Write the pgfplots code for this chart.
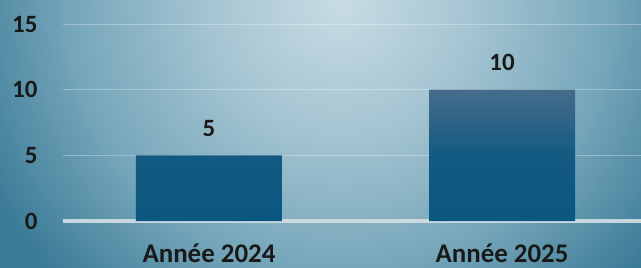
\documentclass[border=0pt]{standalone}
\usepackage{pgfplots}
\pgfplotsset{compat=1.18}
\usepackage{fontspec}
\setmainfont{Carlito}
\definecolor{bg0}{HTML}{C8DCE4}
\definecolor{bg1}{HTML}{A4C4D1}
\definecolor{bg2}{HTML}{76A6BA}
\definecolor{bg3}{HTML}{3A7A96}
\definecolor{bartop}{HTML}{466C8C}
\definecolor{barbot}{HTML}{0A5780}
\definecolor{basecol}{HTML}{D2DEE3}
\pgfdeclareradialshading{bgshade}{\pgfpoint{0bp}{0bp}}{color(0bp)=(bg0); color(135bp)=(bg1); color(270bp)=(bg2); color(400bp)=(bg3); color(500bp)=(bg3)}
\begin{document}
\begin{tikzpicture}
\useasboundingbox (0,0) rectangle (641bp,268bp);
\begin{scope}
\clip (0,0) rectangle (641bp,268bp);
\fill[bg3] (0,0) rectangle (641bp,268bp);
\node[inner sep=0pt, outer sep=0pt, anchor=center] at (340bp,268bp) {\pgfuseshading{bgshade}};
\end{scope}
\begin{axis}[
  at={(63bp,47bp)}, anchor=south west,
  scale only axis, width=578bp, height=221bp,
  xmin=-0.498, xmax=1.474, ymin=0, ymax=16.83,
  axis line style={draw=none},
  major tick length=0pt,
  xtick={0,1}, xticklabels={Année 2024, Année 2025},
  ytick={0,5,10,15},
  ymajorgrids, grid style={white, opacity=0.3, line width=1bp},
  /pgf/number format/assume math mode=true,
  tick label style={font=\fontsize{25}{30}\selectfont\bfseries, text=black!90},
  xticklabel style={yshift=-19bp, font=\fontsize{27}{30}\selectfont\bfseries},
  yticklabel style={xshift=-22bp},
  clip=false,
]
\draw[basecol, line width=3bp, opacity=0.9] (axis cs:-0.498,0) -- (axis cs:1.474,0);
\addplot[ybar, bar width=146bp, draw=none, top color=bartop, bottom color=barbot, middle color=barbot!85!bartop,
  nodes near coords, every node near coord/.append style={font=\fontsize{25}{30}\selectfont\bfseries, text=black!90, yshift=15bp}]
  coordinates {(0,5) (1,10)};
\end{axis}
\end{tikzpicture}
\end{document}
